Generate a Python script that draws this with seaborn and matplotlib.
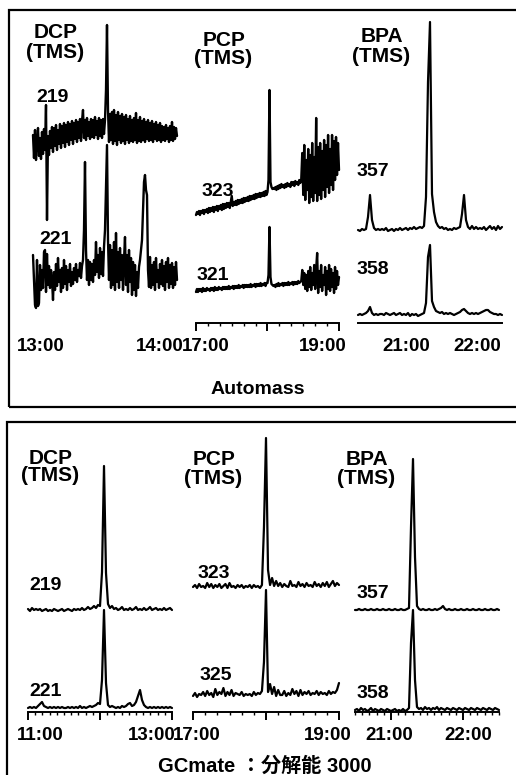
import numpy as np
import matplotlib
matplotlib.use("Agg")
import matplotlib.pyplot as plt
from matplotlib.patches import Rectangle
import seaborn as sns

# ---------------- data (relative intensity) ----------------
# Top panel (Automass)
top_dcp_time = (13.0, 14.0)
top_dcp_219 = [15, -8, 20, -10, 8, 22, -6, 12, -9, 18,
               -4, 21, 0, 45, -70, 14, -5, 19, 2, 23,
               -2, 22, 4, 25, 0, 20, 6, 26, 2, 24,
               7, 27, 3, 25, 8, 28, 5, 26, 10, 29,
               6, 27, 11, 30, 8, 28, 12, 31, 9, 29,
               40, 12, 30, 10, 32, 14, 28, 11, 31, 13,
               30, 12, 33, 15, 29, 11, 32, 14, 30, 12,
               31, 16, 30, 60, 125, 40, 8, 36, 10, 38,
               6, 40, 9, 35, 5, 38, 10, 34, 7, 36,
               9, 33, 6, 35, 10, 31, 7, 34, 9, 30,
               8, 32, 10, 37, 7, 30, 9, 33, 8, 29,
               10, 31, 8, 28, 11, 30, 9, 27, 10, 29,
               8, 26, 11, 28, 9, 25, 10, 27, 8, 24,
               10, 23, 9, 25, 11, 22, 8, 24, 10, 28,
               9, 23, 11, 22, 14]
top_dcp_221 = [45, 20, -5, -8, 40, -6, -3, 35, 10, 30,
               12, 48, 50, 8, 46, 15, 34, 12, 30, 20,
               0, 28, 10, 36, 14, 42, 18, 30, 8, 32,
               12, 40, 16, 34, 10, 30, 18, 36, 14, 28,
               16, 32, 20, 36, 18, 30, 24, 37, 22, 34,
               40, 70, 138, 50, 20, 40, 15, 38, 20, 36,
               18, 40, 25, 58, 28, 45, 22, 52, 26, 48,
               24, 53, 70, 113, 155, 60, 20, 55, 12, 50,
               15, 58, 10, 67, 18, 48, 12, 52, 20, 45,
               10, 40, 63, 15, 45, 8, 50, 18, 42, 5,
               38, 10, 35, 4, 28, 12, 33, 40, 50, 60,
               90, 118, 125, 110, 105, 30, 13, 43, 12, 35,
               15, 38, 10, 42, 18, 30, 12, 36, 16, 40,
               14, 34, 10, 38, 18, 42, 12, 35, 16, 37,
               12, 33, 15, 38, 20]

top_pcp_time = (17.0, 19.0)
top_pcp_323 = [0, 3, 1, 4, 0, 4, 2, 5, 1, 5,
               3, 6, 2, 7, 3, 7, 4, 8, 3, 8,
               5, 9, 4, 9, 6, 10, 5, 11, 6, 11,
               7, 12, 8, 12, 7, 13, 19, 9, 13, 10,
               14, 10, 15, 11, 15, 12, 16, 12, 17, 13,
               17, 14, 18, 14, 19, 15, 19, 16, 20, 16,
               21, 17, 21, 18, 22, 18, 22, 19, 23, 19,
               24, 20, 23, 35, 125, 33, 28, 26, 27, 26,
               28, 25, 29, 26, 30, 27, 31, 28, 30, 27,
               31, 28, 32, 29, 31, 28, 33, 30, 33, 29,
               34, 31, 33, 30, 35, 32, 36, 62, 20, 70,
               15, 55, 25, 66, 12, 60, 18, 72, 14, 58,
               22, 97, 14, 68, 20, 72, 16, 64, 25, 75,
               18, 70, 28, 80, 22, 66, 30, 80, 25, 74,
               35, 78, 40, 72, 45]
top_pcp_321 = [3, 6, 3, 6, 4, 6, 3, 7, 4, 6,
               4, 7, 5, 6, 4, 7, 5, 7, 4, 8,
               5, 7, 5, 8, 6, 7, 5, 8, 6, 8,
               6, 8, 6, 9, 6, 8, 7, 9, 6, 9,
               7, 9, 7, 10, 7, 9, 8, 10, 7, 10,
               8, 10, 8, 10, 8, 11, 8, 10, 9, 11,
               8, 11, 9, 11, 9, 12, 9, 11, 10, 12,
               9, 12, 12, 20, 68, 18, 11, 10, 9, 10,
               8, 11, 9, 12, 9, 11, 10, 12, 9, 12,
               10, 12, 10, 13, 10, 12, 11, 13, 10, 13,
               11, 13, 11, 14, 12, 13, 14, 25, 10, 22,
               6, 20, 4, 24, 8, 28, 5, 22, 10, 30,
               6, 26, 42, 2, 24, 8, 30, 4, 20, 10,
               28, 0, 24, 6, 30, 4, 26, 8, 22, 2,
               28, 6, 24, 10, 18]

top_bpa_time = (20.333, 22.333)
top_bpa_357 = [2, 1, 3, 2, 3, 15, 37, 12, 4, 2, 3, 2, 3, 2, 4, 1, 2, 3, 1, 3,
               2, 4, 2, 3, 4, 2, 4, 3, 5, 3, 4, 5, 4, 6, 35, 150, 210, 38, 20, 10,
               6, 4, 5, 3, 4, 2, 3, 2, 4, 3, 4, 5, 18, 37, 12, 5, 3, 6, 3, 5,
               3, 4, 3, 5, 2, 4, 6, 3, 5, 2, 6, 3, 5]
top_bpa_358 = [2, 3, 2, 3, 4, 6, 10, 4, 2, 3, 2, 3, 3, 2, 4, 3, 2, 3, 4, 2,
               3, 4, 2, 3, 2, 4, 1, 3, 2, 3, 1, 2, 3, 4, 14, 60, 72, 16, 10, 6,
               5, 4, 5, 3, 4, 3, 4, 3, 2, 3, 4, 5, 7, 8, 6, 4, 3, 4, 3, 4,
               3, 4, 5, 6, 7, 7, 5, 4, 3, 3, 2, 3, 2]

# Bottom panel (GCmate)
bot_dcp_time = (11.0, 13.0)
bot_dcp_219 = [3, 1, 4, 2, 3, 2, 3, 1, 2, 3, 1, 2, 1, 3, 2, 1, 2, 3, 1, 2,
               3, 2, 1, 3, 2, 3, 2, 4, 2, 3, 5, 3, 4, 6, 4, 7, 6, 40, 146, 39,
               8, 4, 6, 3, 4, 2, 3, 5, 2, 3, 2, 4, 2, 3, 5, 2, 3, 2, 4, 2,
               3, 5, 2, 3, 4, 2, 3, 2, 4, 2, 3, 4, 2]
bot_dcp_221 = [2, 3, 2, 3, 2, 4, 6, 8, 4, 3, 2, 3, 2, 3, 2, 3, 2, 3, 2, 2,
               3, 2, 3, 2, 3, 2, 4, 2, 3, 2, 3, 4, 3, 4, 5, 7, 6, 30, 100, 27,
               5, 3, 4, 3, 2, 3, 2, 4, 3, 4, 6, 7, 4, 5, 8, 14, 20, 10, 5, 3,
               2, 3, 2, 3, 2, 3, 2, 3, 2, 3, 2, 3, 2]

bot_pcp_time = (17.0, 19.0)
bot_pcp_323 = [3, 5, 2, 6, 3, 4, 2, 7, 3, 6, 2, 5, 3, 6, 2, 4, 6, 2, 7, 3,
               4, 2, 5, 3, 5, 2, 4, 3, 5, 2, 5, 3, 4, 2, 5, 63, 152, 20, 5, 12,
               4, 9, 4, 7, 3, 6, 4, 3, 9, 4, 5, 3, 8, 4, 6, 3, 7, 4, 5, 3,
               8, 4, 6, 3, 7, 4, 8, 3, 6, 9, 4, 7, 5]
bot_pcp_325 = [4, 7, 3, 6, 5, 8, 4, 9, 5, 7, 3, 11, 5, 8, 6, 12, 4, 8, 5, 10,
               4, 7, 6, 5, 8, 4, 6, 5, 6, 4, 8, 5, 7, 6, 9, 38, 110, 8, 16, 6,
               13, 4, 10, 5, 5, 9, 4, 7, 5, 11, 6, 9, 4, 10, 5, 8, 6, 9, 5, 7,
               6, 9, 5, 8, 6, 7, 5, 9, 6, 8, 7, 10, 17]

bot_bpa_time = (20.5, 22.5)
bot_bpa_357 = [2, 2, 3, 2, 2, 3, 2, 2, 3, 2, 2, 3, 2, 2, 3, 2, 2, 3, 2, 2,
               3, 2, 2, 3, 2, 2, 3, 4, 85, 153, 55, 6, 3, 2, 3, 2, 2, 3, 2, 2,
               3, 2, 3, 4, 6, 3, 2, 3, 2, 2, 3, 2, 2, 3, 2, 2, 3, 2, 2, 3,
               2, 2, 3, 2, 2, 3, 2, 2, 3, 2, 2, 3, 2]
bot_bpa_358 = [3, 4, 2, 5, 3, 4, 2, 3, 5, 2, 4, 3, 2, 4, 3, 2, 4, 3, 2, 3,
               4, 2, 3, 2, 4, 2, 3, 5, 70, 103, 33, 6, 4, 5, 3, 6, 4, 5, 3, 5,
               4, 6, 3, 5, 4, 3, 5, 4, 3, 5, 4, 3, 5, 4, 3, 5, 4, 3, 5, 4,
               3, 5, 4, 3, 5, 4, 3, 5, 4, 3, 5, 4, 3]

compound_names = ["DCP", "PCP", "BPA"]
top_masses = ["219", "221", "323", "321", "357", "358"]
bot_masses = ["219", "221", "323", "325", "357", "358"]
top_tick_labels = ["13:00", "14:00", "17:00", "19:00", "21:00", "22:00"]
bot_tick_labels = ["11:00", "13:00", "17:00", "19:00", "21:00", "22:00"]
top_title = "Automass"
bot_title = "GCmate ：分解能 3000"

# ---------------- style / layout ----------------
sns.set_theme(style="white")
plt.rcParams["font.family"] = ["Liberation Sans", "Noto Sans CJK JP", "DejaVu Sans"]
plt.rcParams["font.weight"] = "bold"

W, H = 516, 775
fig = plt.figure(figsize=(W / 100, H / 100), dpi=100)
fig.patch.set_facecolor("white")


def px_axes(x0, y0, x1, y1):
    ax = fig.add_axes([x0 / W, 1 - y1 / H, (x1 - x0) / W, (y1 - y0) / H])
    ax.set_facecolor("none")
    ax.set_ylim(0, y1 - y0)
    for s in ax.spines.values():
        s.set_visible(False)
    ax.set_yticks([])
    ax.set_xticks([])
    ax.grid(False)
    return ax


def ptext(x, y, s, size=14, **kw):
    fig.text(x / W, 1 - y / H, s, ha="center", va="center", fontsize=size,
             fontweight="bold", color="black", **kw)


def trace(ax, trange, vals, offset, lw=1.6):
    t = np.linspace(trange[0], trange[1], len(vals))
    y = np.asarray(vals, float) + offset
    sns.lineplot(x=t, y=y, ax=ax, color="black", linewidth=lw, estimator=None,
                 sort=False, clip_on=False)


def bottom_axis(ax, majors, minors, ticks=True):
    ax.spines["bottom"].set_visible(True)
    ax.spines["bottom"].set_linewidth(1.4)
    ax.spines["bottom"].set_color("black")
    if ticks:
        ax.set_xticks(majors)
        ax.set_xticks(minors, minor=True)
        ax.tick_params(axis="x", which="major", direction="out", length=6, width=1.4,
                       color="black", bottom=True, labelbottom=False)
        ax.tick_params(axis="x", which="minor", direction="out", length=2.5, width=1.0,
                       color="black", bottom=True)


# boxes
fig.add_artist(Rectangle((9 / W, 1 - 407 / H), 540 / W, 397 / H, transform=fig.transFigure,
                         fill=False, lw=1.6, ec="black", clip_on=False))
fig.add_artist(Rectangle((7 / W, 1 - 800 / H), 540 / W, 378 / H, transform=fig.transFigure,
                         fill=False, lw=1.6, ec="black", clip_on=False))

# ---- top panel ----
ax = px_axes(33, 15, 177, 330)
ax.set_xlim(*top_dcp_time)
trace(ax, top_dcp_time, top_dcp_219, 180, lw=1.7)
trace(ax, top_dcp_time, top_dcp_221, 30, lw=1.7)

ax = px_axes(196, 15, 339, 323)
ax.set_xlim(*top_pcp_time)
trace(ax, top_pcp_time, top_pcp_323, 108, lw=1.7)
trace(ax, top_pcp_time, top_pcp_321, 28, lw=1.7)
bottom_axis(ax, [17, 18, 19], np.arange(17, 19.01, 1 / 6))

ax = px_axes(358, 15, 502, 323)
ax.set_xlim(*top_bpa_time)
trace(ax, top_bpa_time, top_bpa_357, 91, lw=1.6)
trace(ax, top_bpa_time, top_bpa_358, 6, lw=1.6)
bottom_axis(ax, [], [], ticks=False)

# ---- bottom panel ----
ax = px_axes(28, 430, 172, 712)
ax.set_xlim(*bot_dcp_time)
trace(ax, bot_dcp_time, bot_dcp_219, 100)
trace(ax, bot_dcp_time, bot_dcp_221, 2)
bottom_axis(ax, [11, 12, 13], np.arange(11, 13.01, 0.1))

ax = px_axes(193, 430, 339, 712)
ax.set_xlim(*bot_pcp_time)
trace(ax, bot_pcp_time, bot_pcp_323, 122)
trace(ax, bot_pcp_time, bot_pcp_325, 12)
bottom_axis(ax, [17, 18, 19], np.arange(17, 19.01, 1 / 6))

ax = px_axes(355, 430, 499, 712)
ax.set_xlim(*bot_bpa_time)
trace(ax, bot_bpa_time, bot_bpa_357, 100)
trace(ax, bot_bpa_time, bot_bpa_358, -1)
bottom_axis(ax, [21, 22], np.arange(20.5, 22.51, 0.1))

# ---- texts ----
for (cx, cy), name in zip([(56, 33), (224, 40), (382, 37)], compound_names):
    ptext(cx, cy, name, size=15)
    ptext(cx - 1, cy + 19, "(TMS)", size=15)
for (cx, cy), name in zip([(51, 458), (214, 460), (367, 460)], compound_names):
    ptext(cx, cy, name, size=15)
    ptext(cx - 1, cy + 18, "(TMS)", size=15)

for (cx, cy), m in zip([(53, 97), (56, 240), (218, 192), (213, 275), (373, 172), (373, 269)],
                       top_masses):
    ptext(cx, cy, m, size=14)
for (cx, cy), m in zip([(46, 585), (46, 692), (214, 573), (216, 676), (373, 594), (373, 694)],
                       bot_masses):
    ptext(cx, cy, m, size=14)

for cx, lab in zip([41, 160, 206, 323, 406, 477], top_tick_labels):
    ptext(cx, 346, lab, size=13.5)
for cx, lab in zip([40, 152, 197, 328, 389, 468], bot_tick_labels):
    ptext(cx, 735, lab, size=13.5)

ptext(258, 389, top_title, size=14)
ptext(265, 766, bot_title, size=14.5)

fig.savefig("out.png", dpi=100, facecolor="white")
